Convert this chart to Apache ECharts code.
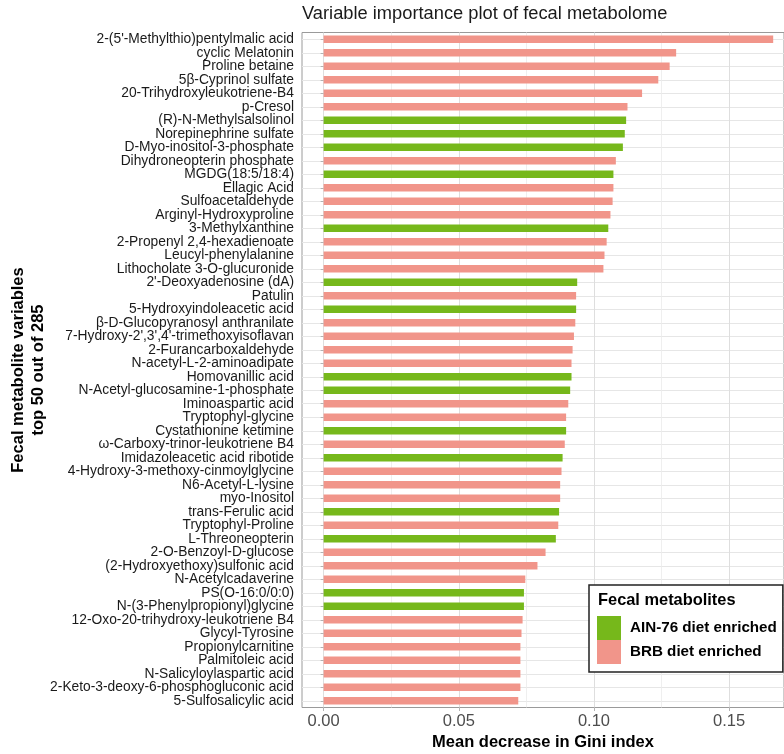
<!DOCTYPE html>
<html>
<head>
<meta charset="utf-8">
<script src="https://cdn.jsdelivr.net/npm/echarts@6/dist/echarts.min.js"></script>
<style>html,body{margin:0;padding:0;background:#fff;}#chart{width:784px;height:754px;}</style>
</head>
<body>
<div id="chart"></div>
<script>
// Categories, top to bottom
const metabolites = [
  "2-(5'-Methylthio)pentylmalic acid", "cyclic Melatonin", "Proline betaine", "5β-Cyprinol sulfate",
  "20-Trihydroxyleukotriene-B4", "p-Cresol", "(R)-N-Methylsalsolinol", "Norepinephrine sulfate",
  "D-Myo-inositol-3-phosphate", "Dihydroneopterin phosphate", "MGDG(18:5/18:4)", "Ellagic Acid",
  "Sulfoacetaldehyde", "Arginyl-Hydroxyproline", "3-Methylxanthine", "2-Propenyl 2,4-hexadienoate",
  "Leucyl-phenylalanine", "Lithocholate 3-O-glucuronide", "2'-Deoxyadenosine (dA)", "Patulin",
  "5-Hydroxyindoleacetic acid", "β-D-Glucopyranosyl anthranilate", "7-Hydroxy-2',3',4'-trimethoxyisoflavan",
  "2-Furancarboxaldehyde", "N-acetyl-L-2-aminoadipate", "Homovanillic acid",
  "N-Acetyl-glucosamine-1-phosphate", "Iminoaspartic acid", "Tryptophyl-glycine", "Cystathionine ketimine",
  "ω-Carboxy-trinor-leukotriene B4", "Imidazoleacetic acid ribotide", "4-Hydroxy-3-methoxy-cinmoylglycine",
  "N6-Acetyl-L-lysine", "myo-Inositol", "trans-Ferulic acid", "Tryptophyl-Proline", "L-Threoneopterin",
  "2-O-Benzoyl-D-glucose", "(2-Hydroxyethoxy)sulfonic acid", "N-Acetylcadaverine", "PS(O-16:0/0:0)",
  "N-(3-Phenylpropionyl)glycine", "12-Oxo-20-trihydroxy-leukotriene B4", "Glycyl-Tyrosine",
  "Propionylcarnitine", "Palmitoleic acid", "N-Salicyloylaspartic acid",
  "2-Keto-3-deoxy-6-phosphogluconic acid", "5-Sulfosalicylic acid"
];
// Mean decrease in Gini index
const giniValues = [
  0.1663, 0.1304, 0.1280, 0.1238, 0.1178, 0.1124, 0.1119, 0.1114, 0.1107, 0.1081,
  0.1072, 0.1072, 0.1069, 0.1061, 0.1053, 0.1047, 0.1039, 0.1035, 0.0938, 0.0934,
  0.0934, 0.0931, 0.0926, 0.0921, 0.0917, 0.0917, 0.0912, 0.0905, 0.0897, 0.0897,
  0.0892, 0.0884, 0.0880, 0.0875, 0.0875, 0.0871, 0.0868, 0.0859, 0.0821, 0.0791,
  0.0746, 0.0741, 0.0741, 0.0736, 0.0732, 0.0728, 0.0728, 0.0728, 0.0728, 0.0720
];
// Group: A = AIN-76 diet enriched, B = BRB diet enriched
const groups = [
  "B","B","B","B","B","B","A","A","A","B",
  "A","B","B","B","A","B","B","B","A","B",
  "A","B","B","B","B","A","A","B","B","A",
  "B","A","B","B","B","A","B","A","B","B",
  "B","A","A","B","B","B","B","B","B","B"
];
const groupNames = { A: "AIN-76 diet enriched", B: "BRB diet enriched" };
const groupColors = { A: "#76B81B", B: "#F1958A" };
const xTicks = [0, 0.05, 0.1, 0.15];
const xMinorTicks = [0.025, 0.075, 0.125];

const FONT = "'Liberation Sans', Arial, Helvetica, sans-serif";
const chart = echarts.init(document.getElementById('chart'), null, { renderer: 'canvas' });

function seriesFor(key) {
  return {
    name: groupNames[key],
    type: 'bar',
    xAxisIndex: 0,
    barWidth: '54%',
    barGap: '-100%',
    itemStyle: { color: groupColors[key] },
    emphasis: { disabled: true },
    data: giniValues.map((v, i) => groups[i] === key ? v : '-')
  };
}

const option = {
  animation: false,
  backgroundColor: '#ffffff',
  textStyle: { fontFamily: FONT },
  title: [
    {
      text: 'Variable importance plot of fecal metabolome',
      left: 302, top: 5, padding: 0,
      textStyle: { fontFamily: FONT, fontSize: 18.3, fontWeight: 'normal', color: '#1a1a1a' }
    },
    {
      text: 'Fecal metabolites',
      left: 598, top: 592, padding: 0,
      textStyle: { fontFamily: FONT, fontSize: 16.4, fontWeight: 'bold', color: '#000' }
    }
  ],
  legend: {
    orient: 'vertical',
    left: 589, top: 585,
    padding: [31, 6, 8, 8],
    itemWidth: 24, itemHeight: 24, itemGap: 0,
    icon: 'rect',
    borderColor: '#222', borderWidth: 1.5,
    backgroundColor: '#fff',
    selectedMode: false,
    itemStyle: { borderWidth: 0 },
    textStyle: { fontFamily: FONT, fontSize: 15.2, fontWeight: 'bold', color: '#000', padding: [0, 0, 0, 4] },
    data: [groupNames.A, groupNames.B]
  },
  grid: {
    left: 302, right: 0, top: 32.5, bottom: 46.5,
    show: true, borderColor: '#9a9a9a', borderWidth: 1,
    containLabel: false, outerBoundsMode: 'none'
  },
  xAxis: [
    {
      type: 'value', min: -0.0080, max: 0.1703,
      name: 'Mean decrease in Gini index',
      nameLocation: 'middle', nameGap: 26, nameMoveOverlap: false,
      nameTextStyle: { fontFamily: FONT, fontSize: 16.5, fontWeight: 'bold', color: '#000' },
      axisLine: { show: false },
      axisTick: { show: true, length: 3.5, customValues: xTicks, lineStyle: { color: '#b3b3b3' } },
      axisLabel: {
        customValues: xTicks, margin: 5,
        fontFamily: FONT, fontSize: 16.5, color: '#4d4d4d',
        formatter: v => v.toFixed(2)
      },
      splitLine: { show: true, lineStyle: { color: '#dedede', width: 1 } }
    },
    {
      type: 'value', min: -0.0080, max: 0.1703, position: 'bottom',
      axisLine: { show: false },
      axisTick: { show: false, customValues: xMinorTicks },
      axisLabel: { show: false, customValues: xMinorTicks },
      splitLine: { show: true, lineStyle: { color: '#ebebeb', width: 0.8 } }
    }
  ],
  yAxis: {
    type: 'category', inverse: true,
    data: metabolites,
    name: 'Fecal metabolite variables\ntop 50 out of 285',
    nameLocation: 'middle', nameGap: 254, nameMoveOverlap: false,
    nameTextStyle: { fontFamily: FONT, fontSize: 16.5, fontWeight: 'bold', color: '#000', lineHeight: 20, align: 'center' },
    axisLine: { show: false },
    axisTick: { show: true, length: 3, alignWithLabel: true, lineStyle: { color: '#b3b3b3' } },
    axisLabel: { margin: 8, fontFamily: FONT, fontSize: 13.8, color: '#1a1a1a', interval: 0 },
    splitLine: { show: true, alignWithLabel: true, interval: 0, lineStyle: { color: '#e6e6e6', width: 1 } }
  },
  series: [seriesFor('A'), seriesFor('B')]
};
chart.setOption(option);
</script>
</body>
</html>
